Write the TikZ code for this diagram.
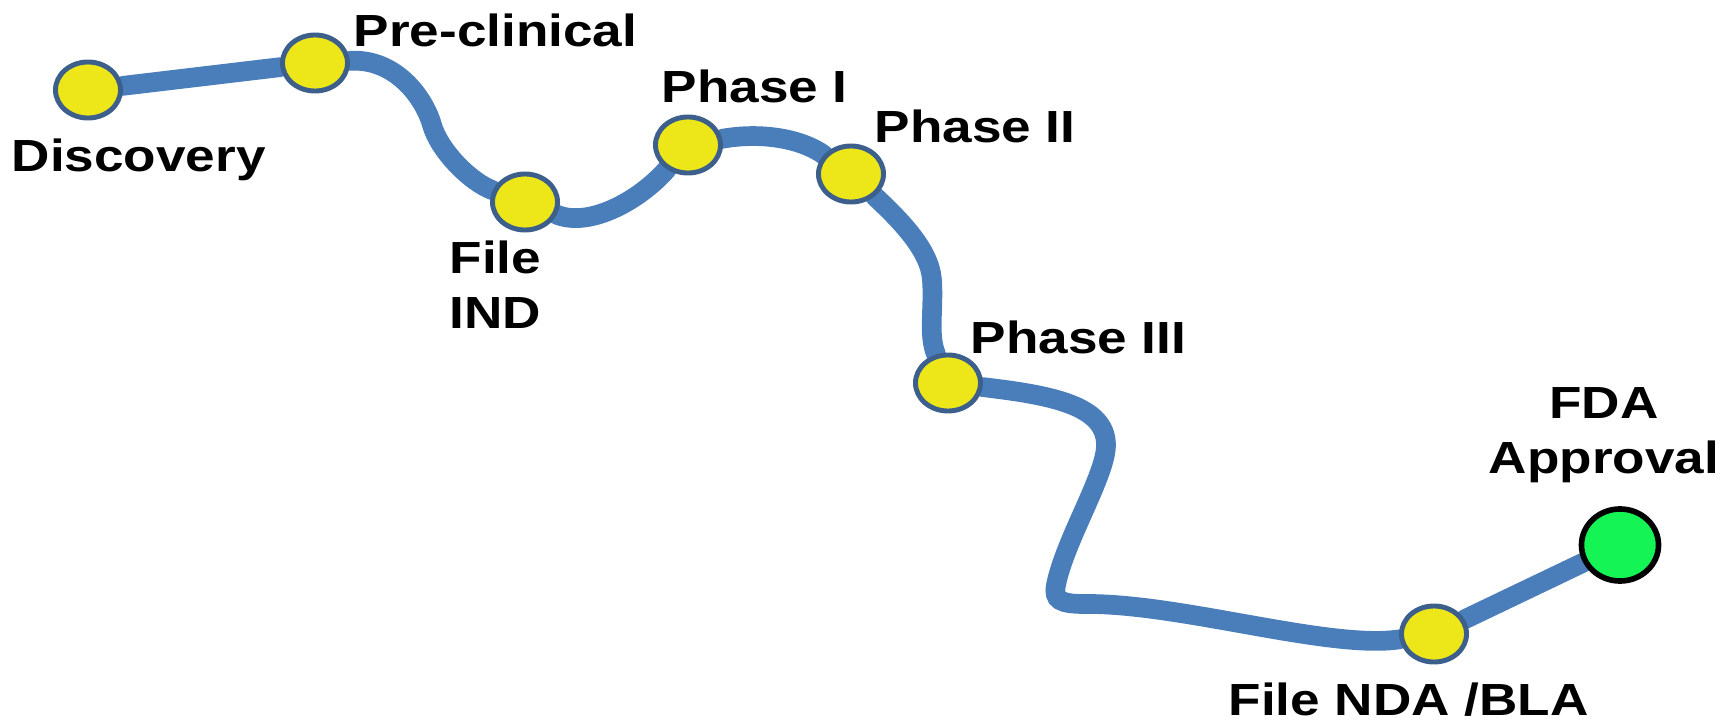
\documentclass[tikz,border=0pt]{standalone}
\usepackage{fontspec}
\setmainfont{Liberation Sans}
\newfontfamily\stagefont{Liberation Sans Bold}[FakeStretch=1.18]
\usepackage{xcolor}
\usetikzlibrary{shapes.geometric,backgrounds}

\definecolor{roadblue}{HTML}{4A7EBB}
\definecolor{stageedge}{HTML}{3C5F8C}
\definecolor{stageyellow}{HTML}{EDE619}
\definecolor{gogreen}{HTML}{14F555}

\begin{document}
\begin{tikzpicture}[x=0.01cm, y=-0.01cm, road/.style = {draw=roadblue, line width=5.6pt, line cap=round}]
		\tikzset{stage/.style={ellipse, draw=stageedge, line width=1.4pt, fill=stageyellow, minimum width=0.65cm, minimum height=0.56cm, inner sep=0pt}}
		\tikzset{goal/.style={ellipse, draw=black, line width=1.6pt, fill=gogreen, minimum width=0.77cm, minimum height=0.72cm, inner sep=0pt}}
		\tikzset{caption/.style={font=\stagefont\fontsize{12.8}{15.6}\selectfont, inner sep=0pt}}

		\useasboundingbox (0,0) rectangle (1729,721);

		% Stages
		\node[stage] (disc) at (88,90) {};
		\node[stage] (precl) at (315,63) {};
		\node[stage] (ind) at (525,202) {};
		\node[stage] (ph1) at (688,145) {};
		\node[stage] (ph2) at (851,174) {};
		\node[stage] (ph3) at (948,383) {};
		\node[stage] (nda) at (1434,634) {};
		\node[goal] (fda) at (1620,545) {};

		% Captions
		\node[caption, anchor=base west] (discl) at (11,172) {Discovery};
		\node[caption, anchor=base west] (precll) at (353,46) {Pre-clinical};
		\node[caption, anchor=north west, align=left] (indl) at (449,240) {File\\IND};
		\node[caption, anchor=base west] (ph1l) at (661,102) {Phase I};
		\node[caption, anchor=base west] (ph2l) at (874,143) {Phase II};
		\node[caption, anchor=base west] (ph3l) at (970,353) {Phase III};
		\node[caption, anchor=base west] (ndal) at (1228,715) {File NDA /BLA};
		\node[caption, anchor=north, align=center] (fdal) at (1604,387) {FDA\\Approval};

		% Bends of the road
		\coordinate (dipA) at (432,125);
		\coordinate (dipB) at (932,280);
		\coordinate (kneeA) at (1106,445);
		\coordinate (kneeB) at (1056,585);
		\coordinate (kneeC) at (1085,604);

		% Road
		\begin{scope}[on background layer]
		\draw [road] (disc) -- (precl);
		\draw [road] (precl) .. controls (395,58) and (424,97) .. (dipA) .. controls (439,150) and (470,182) .. (ind);
		\draw [road] (ind) .. controls (590,228) and (640,200) .. (ph1);
		\draw [road] (ph1) .. controls (760,132) and (800,138) .. (ph2);
		\draw [road] (ph2) .. controls (900,220) and (930,250) .. (dipB) .. controls (934,310) and (928,335) .. (ph3);
		\draw [road] (ph3) .. controls (1050,395) and (1106,405) .. (kneeA) .. controls (1106,475) and (1065,540) .. (kneeB) .. controls (1053,600) and (1060,604) .. (kneeC) .. controls (1180,603) and (1330,650) .. (nda);
		\draw [road] (nda) -- (fda);
		\end{scope}

	\end{tikzpicture}
\end{document}
